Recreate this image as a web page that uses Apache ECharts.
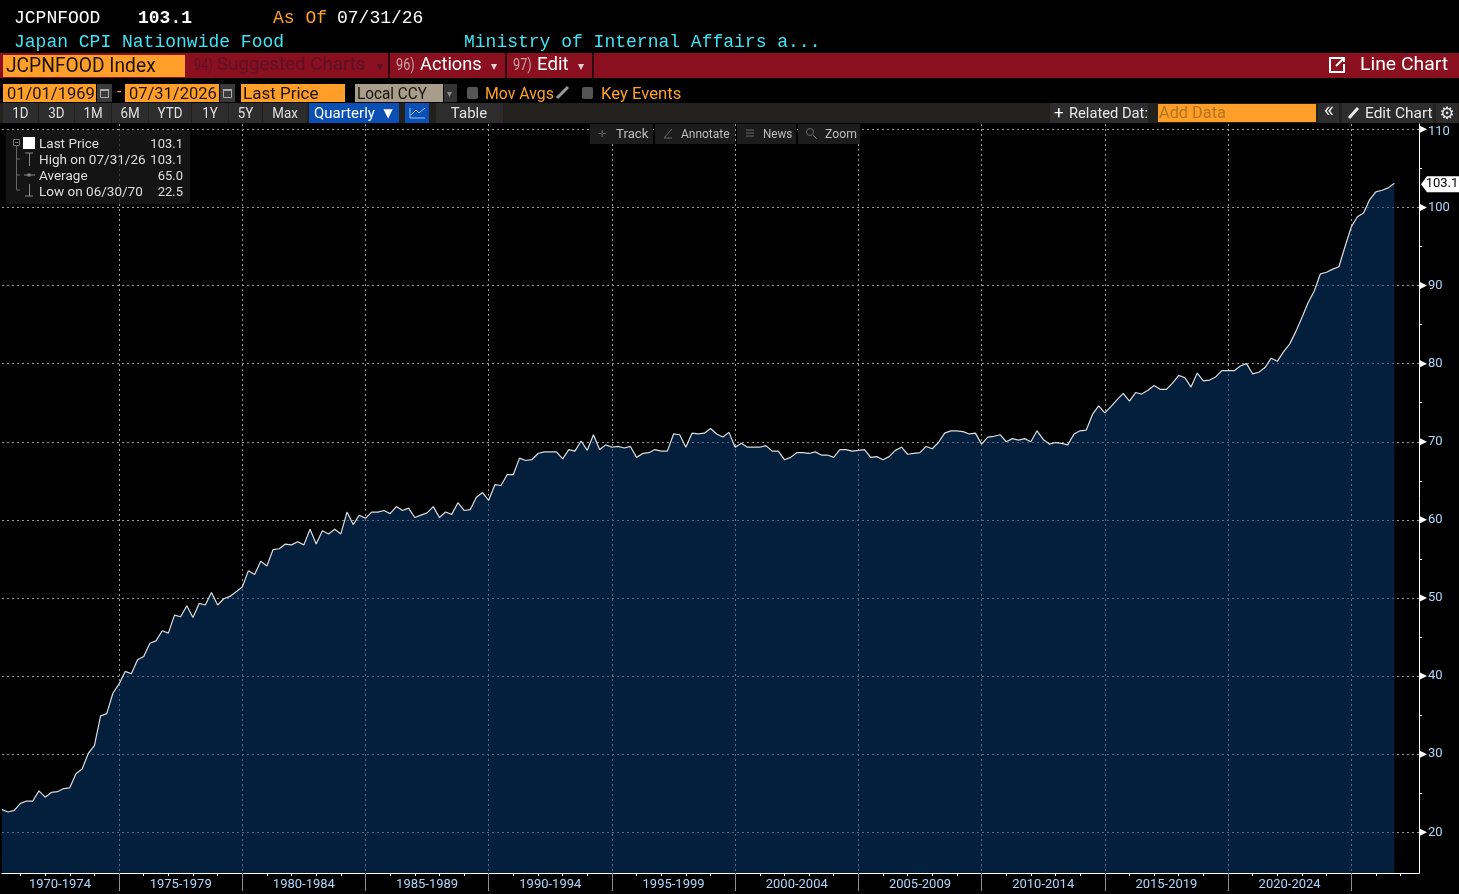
<!DOCTYPE html>
<html><head><meta charset="utf-8">
<style>html,body{margin:0;padding:0;background:#000;overflow:hidden}#c{width:1459px;height:894px}</style>
<script src="https://cdn.jsdelivr.net/npm/echarts@6/dist/echarts.min.js"></script>
</head><body><div id="c"></div>
<script>
// Quarterly index values, first point Q1 1970, last point Q3 2026
const firstYear = 1970;
const values = [
22.9,22.6,22.8,23.7,24.0,24.0,25.3,24.5,25.1,25.2,25.6,25.7,27.5,28.1,30.1,31.1,34.9,35.2,37.8,39.0,
40.6,40.3,42.1,42.5,44.2,44.5,45.8,45.5,47.8,47.6,49.0,47.5,49.3,49.1,50.7,49.1,49.9,50.2,50.8,51.4,
53.5,53.0,54.7,54.1,56.2,56.3,56.9,56.8,57.2,56.8,58.8,56.9,58.6,58.2,58.8,58.2,61.0,59.4,60.6,60.2,
61.0,61.0,61.2,60.8,61.7,61.2,61.5,60.3,60.6,60.9,61.7,60.3,61.0,60.7,62.2,61.2,61.3,62.9,63.5,62.5,
64.5,64.4,65.8,65.8,67.9,67.6,67.7,68.5,68.7,68.7,68.7,67.8,69.0,68.8,70.1,68.9,70.9,69.0,69.6,69.3,
69.4,69.2,69.4,68.0,68.5,68.6,69.0,68.8,68.8,71.0,70.9,69.3,71.1,71.0,71.1,71.7,71.0,70.6,71.2,69.3,
69.8,69.3,69.3,69.3,69.5,68.8,68.8,67.7,68.0,68.6,68.6,68.5,68.7,68.3,68.3,68.0,69.0,69.0,68.8,68.9,
69.0,68.0,68.1,67.7,68.1,68.9,69.3,68.4,68.5,68.6,69.4,69.1,69.9,71.1,71.4,71.4,71.3,71.0,71.1,69.7,
70.6,70.7,70.9,70.0,70.4,70.2,70.4,70.0,71.4,70.3,69.7,69.9,69.8,69.6,71.0,71.4,71.5,73.5,74.6,73.7,
74.5,75.4,76.2,75.2,76.3,76.1,76.6,77.2,76.7,76.7,77.5,78.5,78.2,77.0,78.8,77.8,77.9,78.3,79.1,79.1,
79.1,79.7,80.0,78.7,78.9,79.5,80.7,80.3,81.5,82.5,84.1,85.9,87.8,89.3,91.5,91.7,92.1,92.4,95.0,97.5,
98.8,99.3,101.0,102.0,102.2,102.5,103.1];
const yLabelTicks = [20,30,40,50,60,70,80,90,100,110];
const yLabelAnchors = [20,30,40,50,60,70,80,90,100,109.7]; // the top label sits just below its gridline
const yMinorTicks = [25,35,45,55,65,75,85,95,105];
const periodBoundaries = [1975,1980,1985,1990,1995,2000,2005,2010,2015,2020,2025];
const yearTicks = [1971,1972,1973,1974,1976,1977,1978,1979,1981,1982,1983,1984,1986,1987,1988,1989,1991,1992,1993,1994,1996,1997,1998,1999,2001,2002,2003,2004,2006,2007,2008,2009,2011,2012,2013,2014,2016,2017,2018,2019,2021,2022,2023,2024,2026,2027];
const periodCentres = [1972.6,1977.5,1982.5,1987.5,1992.5,1997.5,2002.5,2007.5,2012.5,2017.5,2022.5];
const lastValue = values[values.length-1];

// x is the end of each quarter in decimal years
const seriesData = values.map((v,i)=>[firstYear+(i+1)/4, v]);
const xMin=1970.25, xMax=2027.75;
const periodName = v => { const s=1970+Math.floor((v-1970)/5)*5; return s+'-'+(s+4); };

const MONO='"Liberation Mono"', UI='Roboto';
const ORANGE='#ffa028', RED='#8a0f1f', AMBER='#ff9f2a';
const g=[];
function R(x,y,w,h,fill,extra){g.push({type:'rect',z:50,shape:Object.assign({x,y,width:w,height:h},extra||{}),style:{fill}});}
function T(text,x,y,fill,size,o){o=o||{};g.push({type:'text',z:51,x,y:y+1.3,scaleX:o.sx||1,style:{text,x:0,y:0,fill,font:(o.bold?'bold ':'')+size+'px '+(o.font||UI),textAlign:o.align||'left',textVerticalAlign:'middle'}});}
function L(pts,stroke,w){g.push({type:'polyline',z:51,shape:{points:pts},style:{stroke,fill:null,lineWidth:w||1}});}
function calendar(x){R(x,84,15,18,'#3a3a3a');L([[x+3.5,89.5],[x+11.5,89.5],[x+11.5,97.5],[x+3.5,97.5],[x+3.5,89.5]],'#aaa',1);R(x+3,89,9,2,'#aaa');}

// header rows
T('JCPNFOOD',14,17,'#fff',18,{font:MONO});
T('103.1',138,17,'#fff',18,{font:MONO,bold:true});
T('As Of',273,17,ORANGE,18,{font:MONO});
T('07/31/26',337,17,'#fff',18,{font:MONO});
T('Japan CPI Nationwide Food',14,41,'#3fe3f5',18,{font:MONO});
T('Ministry of Internal Affairs a...',464,41,'#3fe3f5',18,{font:MONO});
// red bar
R(0,53,1459,25,RED);
R(3,55,182,22,AMBER);
T('JCPNFOOD Index',6,66,'#1a1208',20,{sx:.96});
T('94)',194,64,'#5c1226',17,{sx:.75});
T('Suggested Charts',217,64,'#5c1226',19,{sx:.985});
T('▾',377,66,'#5c1226',12,{font:'DejaVu Sans'});
R(388,53,2,25,'#2a0a0e');R(505,53,2,25,'#2a0a0e');R(592,53,2,25,'#2a0a0e');
T('96)',396,64,'#c8a2a6',17,{sx:.75});
T('Actions',420,64,'#fff',19,{sx:.96});
T('▾',491,66,'#e6d0d0',12,{font:'DejaVu Sans'});
T('97)',513,64,'#c8a2a6',17,{sx:.75});
T('Edit',537,64,'#fff',19,{sx:.98});
T('▾',578,66,'#e6d0d0',12,{font:'DejaVu Sans'});
L([[1341,58],[1330,58],[1330,72],[1344,72],[1344,64]],'#fff',2);
L([[1336,66],[1344,58]],'#fff',2);L([[1339,58],[1344,58],[1344,62]],'#fff',2);
T('Line Chart',1360,64,'#fff',19,{sx:1.02});
// date row
R(3,84,93,18,AMBER);
T('01/01/1969',7,93,'#1a1208',17,{sx:.97});
calendar(97);
T('-',117,92,ORANGE,16);
R(125,84,94,18,AMBER);
T('07/31/2026',129,93,'#1a1208',17,{sx:.97});
calendar(220);
R(241,84,104,18,AMBER);
T('Last Price',243,93,'#1a1208',17,{sx:1});
R(355,84,88,18,'#a89c8a');
T('Local CCY',357,93,'#1a1208',17,{sx:.9});
R(444,84,13,18,'#333');
T('▾',447,93,'#888',10,{font:'DejaVu Sans'});
R(467,87,11,12,'#555',{r:2});
T('Mov Avgs',485,93,ORANGE,17,{sx:.93});
L([[557,98],[568,87]],'#999',3);
R(582,87,11,12,'#555',{r:2});
T('Key Events',601,93,ORANGE,17,{sx:.98});
// button row
R(0,103,1459,20,'#23211d');
const ranges=[['1D',3,38],['3D',39,74],['1M',75,111],['6M',112,148],['YTD',149,191],['1Y',192,228],['5Y',229,262],['Max',263,307]];
ranges.forEach(r=>{R(r[1],103,r[2]-r[1],20,'#2d2d2d');T(r[0],(r[1]+r[2])/2,113,'#e0e0e0',14.5,{align:'center',sx:.92});});
R(309,103,90,20,'#0a50b4');
T('Quarterly',314,113,'#fff',15,{sx:1});
T('▼',388,113,'#fff',12,{font:'DejaVu Sans',align:'center'});
R(405,103,24,20,'#0a50b4');
L([[410,108],[410,118],[425,118]],'#9cc4f0',1);L([[411,115],[416,110],[419,113],[425,108]],'#9cc4f0',1);
R(436,103,67,20,'#2d2d2d');
T('Table',469,113,'#e0e0e0',15,{align:'center',sx:1});
R(1050,103,100,20,'#2d2d2d');
T('+',1054,112,'#fff',17,{});
T('Related Dat:',1069,113,'#e8e8e8',15,{sx:.98});
R(1148,103,10,20,'#23211d');
R(1158,104,158,18,AMBER);
T('Add Data',1159,113,'#b4741c',16,{sx:1.02});
R(1318,103,21,20,'#2d2d2d');
T('«',1329,110.5,'#e8e8e8',22,{align:'center'});
R(1342,103,91,20,'#2d2d2d');
L([[1349,118],[1358,108]],'#e8e8e8',3);
T('Edit Chart',1365,113,'#e8e8e8',15,{sx:1.03});
R(1436,103,22,20,'#2d2d2d');
T('⚙',1447,113,'#e8e8e8',17,{font:'DejaVu Sans',align:'center',bold:true});
// chart tools strip
[[590,63],[655,80],[737,59],[798,62]].forEach(b=>R(b[0],124,b[1],20,'#1c1c1c'));
T('✛',602,133,'#666',10,{font:'DejaVu Sans',align:'center'});
T('Track',616,133,'#bdbdbd',13,{sx:1.02});
L([[664,138],[672,129]],'#666',1);L([[664,138],[672,138]],'#666',1);
T('Annotate',681,133,'#bdbdbd',13,{sx:.92});
[130,133,136].forEach(y=>L([[746,y],[754,y]],'#666',1));
T('News',763,133,'#bdbdbd',13,{sx:.9});
g.push({type:'circle',z:51,shape:{cx:810,cy:132,r:3.5},style:{stroke:'#666',fill:null}});
L([[813,135],[817,139]],'#666',1);
T('Zoom',825,133,'#bdbdbd',13,{sx:.94});
// legend box
R(6,130,184,74,'rgba(28,28,28,.72)',{r:3});
R(13,139,7,7,'#000');
L([[13.5,139.5],[19.5,139.5],[19.5,145.5],[13.5,145.5],[13.5,139.5]],'#777',1);L([[15,142.5],[18,142.5]],'#777',1);
L([[16.5,146],[16.5,190],[20,190]],'#666',1);L([[16.5,159],[20,159]],'#666',1);L([[16.5,175],[20,175]],'#666',1);
R(23,137,12,12,'#fff');
L([[25,153],[33,153]],'#888',1);L([[29.5,153],[29.5,166]],'#888',1);
L([[24,175],[35,175]],'#888',1);R(27.5,173.5,3,3,'#888');
L([[25,196],[33,196]],'#888',1);L([[29.5,184],[29.5,196]],'#888',1);
const legendRows=[['Last Price','103.1',143],['High on 07/31/26','103.1',159],['Average','65.0',175],['Low on 06/30/70','22.5',191]];
legendRows.forEach(r=>{T(r[0],39,r[2],'#dfdfdf',13,{sx:1.04});T(r[1],183,r[2],'#dfdfdf',13,{align:'right'});});

const axisText={color:'#aed6fb',fontFamily:UI,fontSize:13};
const gridDash={color:'#989898',type:[2,3],width:1};
const option={
 backgroundColor:'#000',animation:false,
 grid:{left:2,right:40,top:124,bottom:21,containLabel:false},
 xAxis:[
  {type:'value',min:xMin,max:xMax,position:'bottom',
   axisLine:{show:true,onZero:false,lineStyle:{color:'#fff',width:1}},
   axisTick:{show:true,length:3,lineStyle:{color:'#fff'},customValues:yearTicks},
   axisLabel:{show:false},splitLine:{show:false}},
  {type:'value',min:xMin,max:xMax,position:'bottom',
   axisLine:{show:false,onZero:false},
   axisTick:{show:true,length:18,lineStyle:{color:'#8c8c8c'},customValues:periodBoundaries},
   axisLabel:Object.assign({show:true,margin:5,hideOverlap:false,customValues:periodCentres,formatter:periodName},axisText),
   splitLine:{show:true,lineStyle:gridDash}}
 ],
 yAxis:[
  {type:'value',min:14.79,max:110.68,position:'right',
   axisLine:{show:true,onZero:false,lineStyle:{color:'#fff',width:1}},
   axisTick:{show:true,length:3,lineStyle:{color:'#fff'},customValues:yMinorTicks},
   axisLabel:{show:false},splitLine:{show:false}},
  {type:'value',min:14.79,max:110.68,position:'right',
   axisLine:{show:false,onZero:false},
   axisTick:{show:false,customValues:yLabelTicks},
   axisLabel:Object.assign({show:true,margin:9,padding:[5,0,0,0],customValues:yLabelAnchors,formatter:v=>String(Math.round(v/10)*10)},axisText),
   splitLine:{show:true,lineStyle:gridDash}}
 ],
 series:[
  {type:'line',data:seriesData,xAxisIndex:0,yAxisIndex:0,showSymbol:false,smooth:false,z:3,
   lineStyle:{color:'#dcdcdc',width:1.2},itemStyle:{color:'#dcdcdc'},
   areaStyle:{color:'#063e78',opacity:.5,origin:'start'}},
  {type:'scatter',xAxisIndex:0,yAxisIndex:0,clip:false,silent:true,z:5,
   data:yLabelTicks.map(v=>[xMax,v]),symbol:'triangle',symbolRotate:-90,symbolSize:[8,8],symbolOffset:[4,0],
   itemStyle:{color:'#fff',opacity:1}},
  {type:'scatter',xAxisIndex:0,yAxisIndex:0,clip:false,silent:true,z:6,
   data:[[xMax,lastValue]],symbol:'path://M0,8 L6,0 L38,0 L38,16 L6,16 Z',symbolSize:[38,16],symbolOffset:[21,1],
   itemStyle:{color:'#fff',opacity:1},
   label:{show:true,position:'inside',offset:[2,0],color:'#000',fontFamily:UI,fontSize:13,formatter:p=>p.value[1].toFixed(1)}}
 ],
 graphic:{elements:g}
};
const chart=echarts.init(document.getElementById('c'));
chart.setOption(option);
</script></body></html>
